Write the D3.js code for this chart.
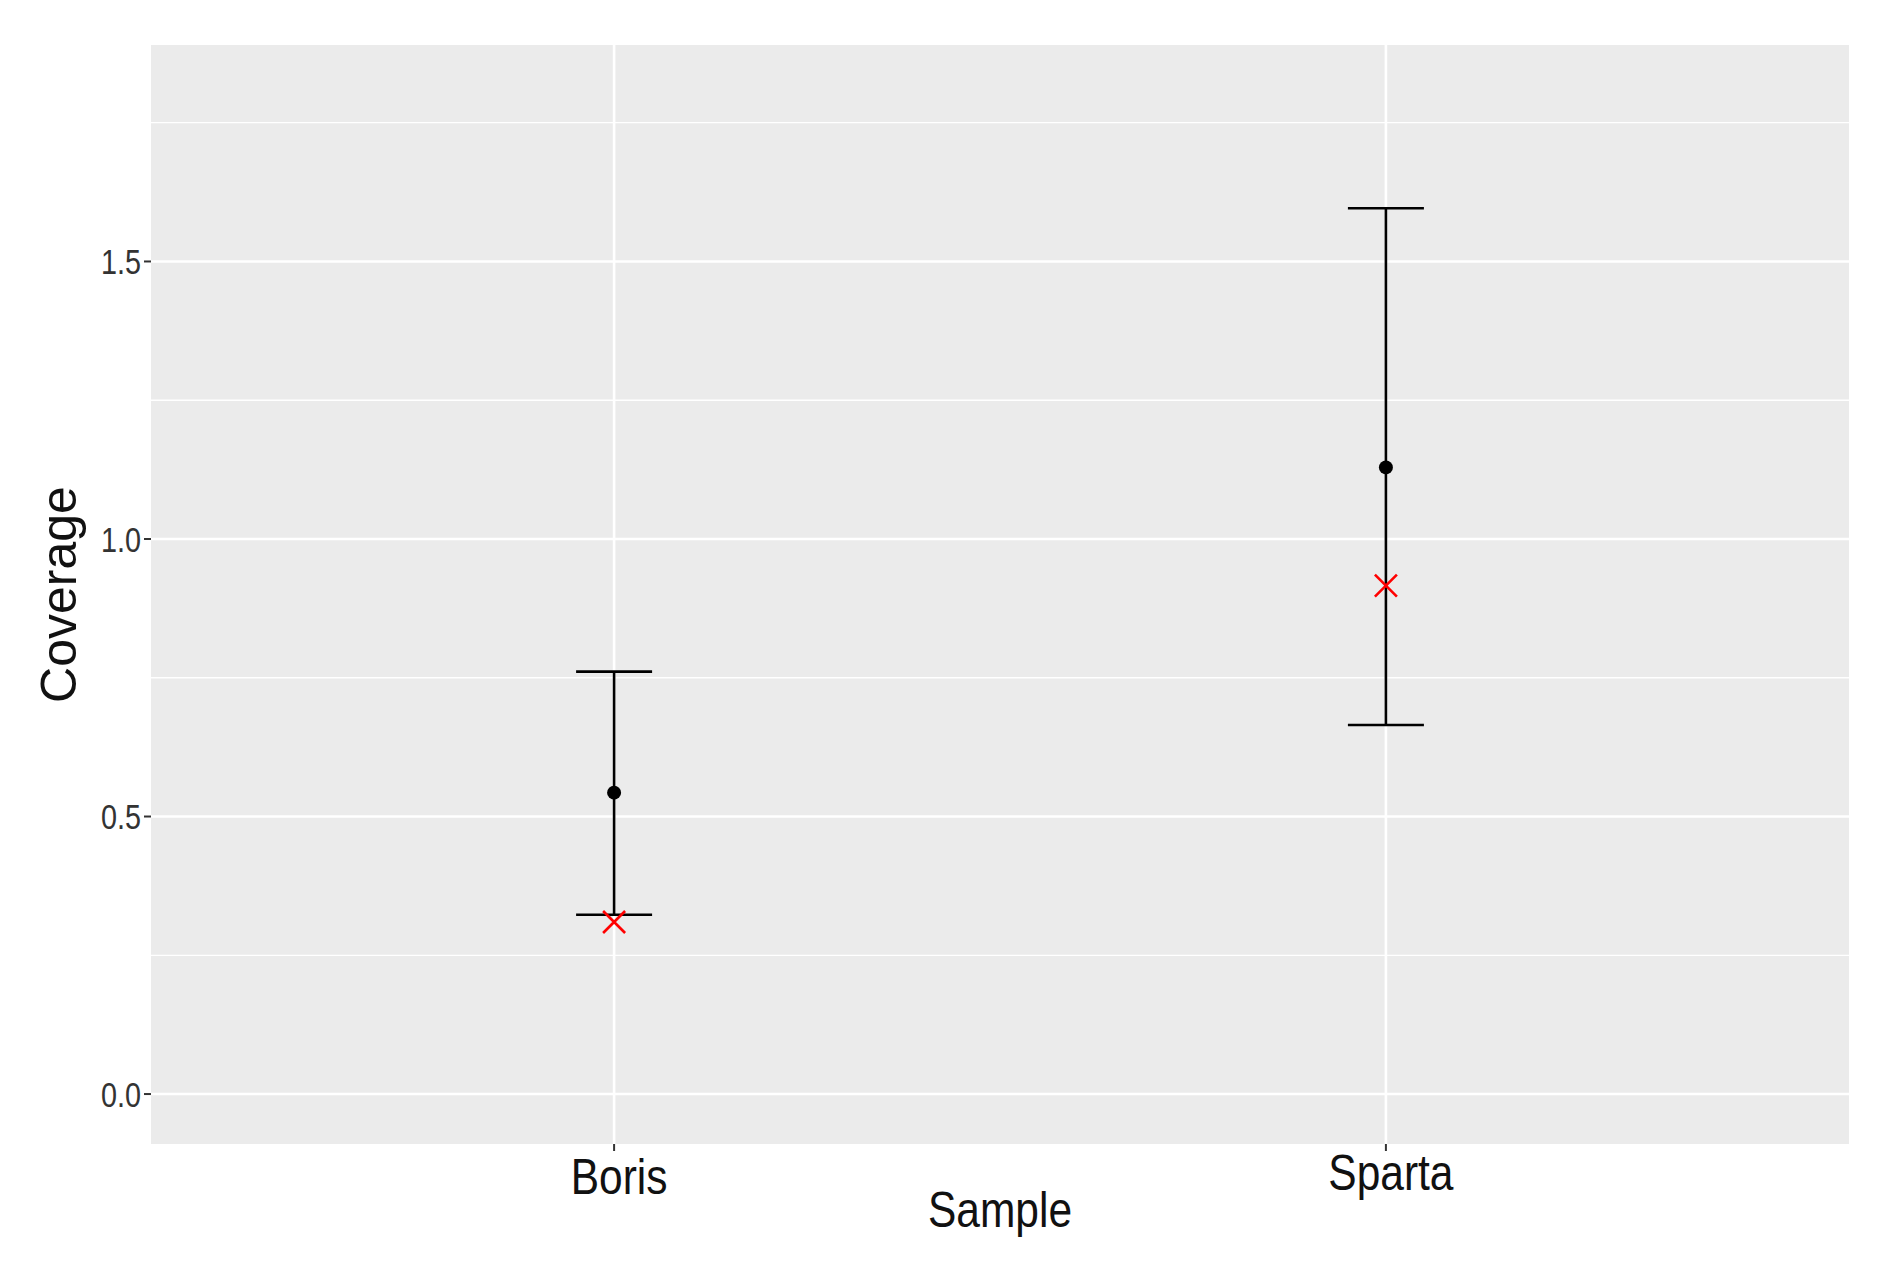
<!DOCTYPE html>
<html>
<head>
<meta charset="utf-8">
<script src="https://cdn.jsdelivr.net/npm/d3@7"></script>
<style>
  body { margin: 0; background: #fff; }
  text { font-family: "Liberation Sans Narrow", "Liberation Sans", Arial, sans-serif; }
</style>
</head>
<body>
<div id="container"></div>
<script>
// data
let samples = ["Boris", "Sparta"];
let means = [0.543, 1.129];
let lowers = [0.323, 0.665];
let uppers = [0.761, 1.596];
let crosses = [0.31, 0.916];
let yTicks = [0, 0.5, 1.0, 1.5];
let yMinor = [0.25, 0.75, 1.25, 1.75];

let width = 1881, height = 1265;
let panel = {left: 151, right: 1849, top: 45, bottom: 1144};

let svg = d3.select("#container").append("svg")
    .attr("width", width)
    .attr("height", height);

let y = d3.scaleLinear().domain([-0.09, 1.89]).range([panel.bottom, panel.top]);
let x = d3.scaleLinear().domain([0.4, 2.6]).range([panel.left, panel.right]);
let xPos = i => x(i + 1);

svg.append("rect")
    .attr("x", panel.left).attr("y", panel.top)
    .attr("width", panel.right - panel.left).attr("height", panel.bottom - panel.top)
    .attr("fill", "#ebebeb");

// grid
svg.selectAll(".minor").data(yMinor).enter().append("line")
    .attr("x1", panel.left).attr("x2", panel.right)
    .attr("y1", d => y(d)).attr("y2", d => y(d))
    .attr("stroke", "#fff").attr("stroke-width", 1.3);
svg.selectAll(".major").data(yTicks).enter().append("line")
    .attr("x1", panel.left).attr("x2", panel.right)
    .attr("y1", d => y(d)).attr("y2", d => y(d))
    .attr("stroke", "#fff").attr("stroke-width", 2.6);
svg.selectAll(".vgrid").data(samples).enter().append("line")
    .attr("x1", (d, i) => xPos(i)).attr("x2", (d, i) => xPos(i))
    .attr("y1", panel.top).attr("y2", panel.bottom)
    .attr("stroke", "#fff").attr("stroke-width", 2.6);

// y axis (labels squeezed to look like the narrow font)
svg.selectAll(".ytick").data(yTicks).enter().append("line")
    .attr("x1", panel.left - 7).attr("x2", panel.left)
    .attr("y1", d => y(d)).attr("y2", d => y(d))
    .attr("stroke", "#333").attr("stroke-width", 2);
svg.selectAll(".ylab").data(yTicks).enter().append("text")
    .attr("transform", d => `translate(${panel.left - 10},${y(d)}) scale(0.8,1)`)
    .attr("dy", "0.35em").attr("text-anchor", "end")
    .attr("font-size", 36).attr("fill", "#333")
    .text(d3.format(".1f"));

// x axis
svg.selectAll(".xtick").data(samples).enter().append("line")
    .attr("x1", (d, i) => xPos(i)).attr("x2", (d, i) => xPos(i))
    .attr("y1", panel.bottom).attr("y2", panel.bottom + 7)
    .attr("stroke", "#333").attr("stroke-width", 2);
svg.selectAll(".xlab").data(samples).enter().append("text")
    .attr("transform", (d, i) => `translate(${xPos(i) + 5},${i ? 1190 : 1194}) scale(0.85,1)`)
    .attr("text-anchor", "middle")
    .attr("font-size", 50).attr("fill", "#111")
    .text(d => d);

svg.append("text")
    .attr("transform", `translate(${(panel.left + panel.right) / 2},1227) scale(0.85,1)`)
    .attr("text-anchor", "middle").attr("font-size", 50).attr("fill", "#111")
    .text("Sample");
svg.append("text")
    .attr("transform", `translate(76,${(panel.top + panel.bottom) / 2}) rotate(-90)`)
    .attr("text-anchor", "middle").attr("font-size", 50).attr("fill", "#111")
    .text("Coverage");

// error bars
let g = svg.selectAll(".bar").data(samples).enter().append("g");
g.append("line")
    .attr("x1", (d, i) => xPos(i)).attr("x2", (d, i) => xPos(i))
    .attr("y1", (d, i) => y(lowers[i])).attr("y2", (d, i) => y(uppers[i]))
    .attr("stroke", "#000").attr("stroke-width", 2.6);
[lowers, uppers].forEach(arr => {
  g.append("line")
    .attr("x1", (d, i) => xPos(i) - 38).attr("x2", (d, i) => xPos(i) + 38)
    .attr("y1", (d, i) => y(arr[i])).attr("y2", (d, i) => y(arr[i]))
    .attr("stroke", "#000").attr("stroke-width", 2.6);
});
g.append("circle")
    .attr("cx", (d, i) => xPos(i)).attr("cy", (d, i) => y(means[i]))
    .attr("r", 7).attr("fill", "#000");
g.append("path")
    .attr("d", (d, i) => {
      let cx = xPos(i), cy = y(crosses[i]), s = 11;
      return `M${cx - s},${cy - s}L${cx + s},${cy + s}M${cx - s},${cy + s}L${cx + s},${cy - s}`;
    })
    .attr("stroke", "#ff0000").attr("stroke-width", 2.6);
</script>
</body>
</html>
